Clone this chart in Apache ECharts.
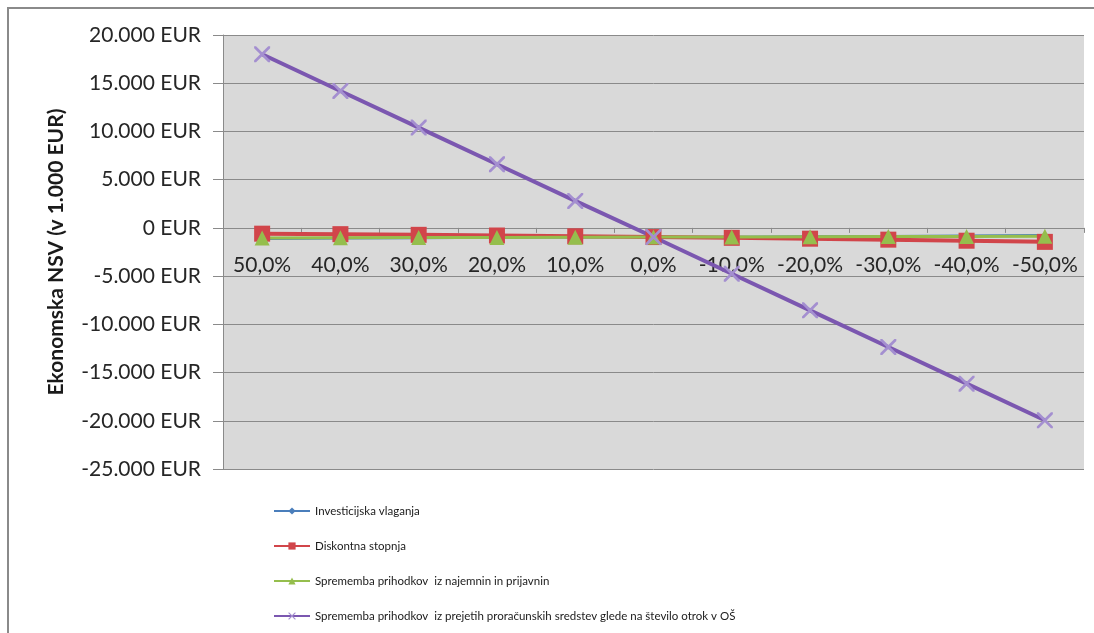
<!DOCTYPE html>
<html>
<head>
<meta charset="utf-8">
<style>
  html, body { margin: 0; padding: 0; background: #ffffff; }
  #chart { width: 1094px; height: 633px; }
</style>
<script src="https://cdn.jsdelivr.net/npm/echarts@6/dist/echarts.min.js"></script>
</head>
<body>
<div id="chart"></div>
<script>
// Sensitivity scenarios (change of the input parameter)
const categories = ['50,0%', '40,0%', '30,0%', '20,0%', '10,0%', '0,0%', '-10,0%', '-20,0%', '-30,0%', '-40,0%', '-50,0%'];

// Economic NPV in EUR for each sensitivity scenario
const investicijskaVlaganja = [-1150, -1110, -1070, -1030, -990, -950, -910, -870, -830, -790, -750];
const diskontnaStopnja = [-600, -650, -720, -790, -870, -950, -1030, -1120, -1220, -1330, -1450];
const najemnineInPrijavnine = [-1040, -1020, -1000, -985, -965, -950, -935, -920, -905, -890, -875];
const proracunskaSredstva = [18000, 14200, 10400, 6600, 2800, -950, -4750, -8550, -12350, -16150, -19950];

const seriesNames = [
  'Investicijska vlaganja',
  'Diskontna stopnja',
  'Sprememba prihodkov  iz najemnin in prijavnin',
  'Sprememba prihodkov  iz prejetih proračunskih sredstev glede na število otrok v OŠ'
];

// Y axis range and step
const yMin = -25000, yMax = 20000, yStep = 5000;

// Plot area box (px)
const gridBox = { left: 223, right: 10, top: 35, bottom: 164 };
const chartHeight = 633;
const plotHeight = chartHeight - gridBox.top - gridBox.bottom;
// Category axis sits on the value 0 line
const zeroOffset = -((0 - yMin) / (yMax - yMin)) * plotHeight;

const FONT = 'Lato, "Open Sans", sans-serif';
const crossSymbol = 'path://M0,0L1.2,0L10,8.8L10,10L8.8,10L0,1.2Z M8.8,0L10,0L10,1.2L1.2,10L0,10L0,8.8Z';

function eur(v) {
  const s = Math.abs(v).toString().replace(/\B(?=(\d{3})+(?!\d))/g, '.');
  return (v < 0 ? '-' : '') + s + ' EUR';
}

const chart = echarts.init(document.getElementById('chart'), null, { renderer: 'canvas' });

chart.setOption({
  backgroundColor: '#ffffff',
  animation: false,
  graphic: [{
    type: 'rect',
    shape: { x: 8, y: 8, width: 1200, height: 1000 },
    style: { fill: 'none', stroke: '#8a8a8a', lineWidth: 2 },
    silent: true,
    z: -10
  }],
  grid: {
    left: gridBox.left, right: gridBox.right, top: gridBox.top, bottom: gridBox.bottom,
    show: true,
    backgroundColor: '#d9d9d9',
    borderWidth: 0
  },
  legend: {
    orient: 'vertical',
    left: 268,
    top: 500,
    itemWidth: 36,
    itemHeight: 9,
    itemGap: 23,
    textStyle: { fontFamily: FONT, fontSize: 11.5, color: '#1a1a1a' },
    data: seriesNames
  },
  xAxis: {
    type: 'category',
    data: categories,
    boundaryGap: true,
    position: 'bottom',
    offset: zeroOffset,
    axisLine: { onZero: false, lineStyle: { color: '#8a8a8a', width: 1 } },
    axisTick: { show: true, inside: false, length: 5, interval: 0, lineStyle: { color: '#8a8a8a' } },
    axisLabel: { fontFamily: FONT, fontSize: 21, color: '#262626', margin: 27, interval: 0, hideOverlap: false },
    splitLine: { show: false }
  },
  yAxis: {
    type: 'value',
    min: yMin, max: yMax, interval: yStep,
    name: 'Ekonomska NSV (v 1.000 EUR)',
    nameLocation: 'middle',
    nameGap: 156,
    nameTextStyle: { fontFamily: FONT, fontSize: 21, fontWeight: 'bold', color: '#1a1a1a' },
    axisLine: { show: true, lineStyle: { color: '#8a8a8a', width: 1 } },
    axisTick: { show: true, length: 10, lineStyle: { color: '#8a8a8a' } },
    axisLabel: { fontFamily: FONT, fontSize: 21, color: '#262626', margin: 22, formatter: eur },
    splitLine: { show: true, lineStyle: { color: '#8a8a8a', width: 1 } }
  },
  series: [
    {
      name: seriesNames[0], type: 'line', data: investicijskaVlaganja,
      symbol: 'diamond', symbolSize: 7,
      lineStyle: { color: '#4a7ebb', width: 2 },
      itemStyle: { color: '#4a7ebb' }
    },
    {
      name: seriesNames[1], type: 'line', data: diskontnaStopnja,
      symbol: 'rect', symbolSize: 16,
      lineStyle: { color: '#d1454a', width: 4 },
      itemStyle: { color: '#d1454a' }
    },
    {
      name: seriesNames[2], type: 'line', data: najemnineInPrijavnine,
      symbol: 'triangle', symbolSize: 15,
      lineStyle: { color: '#95be4d', width: 3 },
      itemStyle: { color: '#95be4d' }
    },
    {
      name: seriesNames[3], type: 'line', data: proracunskaSredstva,
      symbol: crossSymbol, symbolSize: 16,
      lineStyle: { color: '#7b57b0', width: 4 },
      itemStyle: { color: '#a48fd0' }
    }
  ]
});
</script>
</body>
</html>
